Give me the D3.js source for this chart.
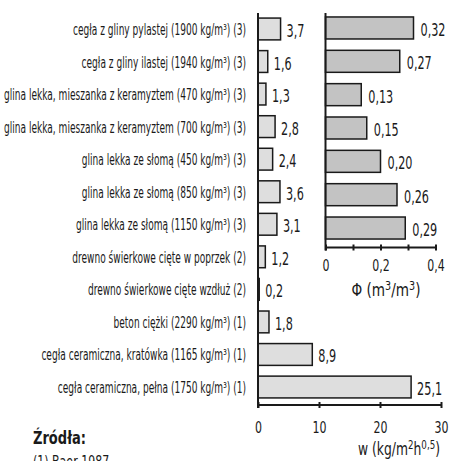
<!DOCTYPE html>
<html>
<head>
<meta charset="utf-8">
<script src="https://cdn.jsdelivr.net/npm/d3@7"></script>
<style>
  html, body { margin: 0; padding: 0; background: #fff; }
  svg { display: block; }
  text { font-family: "Liberation Sans Narrow", "DejaVu Sans Condensed", "Arial Narrow", sans-serif; fill: #1a1a1a; }
</style>
</head>
<body>
<svg id="chart" width="449" height="461"></svg>
<script>
// Materials (source reference in parentheses)
const categories = [
  "cegła z gliny pylastej (1900 kg/m³) (3)",
  "cegła z gliny ilastej (1940 kg/m³) (3)",
  "glina lekka, mieszanka z keramyztem (470 kg/m³) (3)",
  "glina lekka, mieszanka z keramyztem (700 kg/m³) (3)",
  "glina lekka ze słomą (450 kg/m³) (3)",
  "glina lekka ze słomą (850 kg/m³) (3)",
  "glina lekka ze słomą (1150 kg/m³) (3)",
  "drewno świerkowe cięte w poprzek (2)",
  "drewno świerkowe cięte wzdłuż (2)",
  "beton ciężki (2290 kg/m³) (1)",
  "cegła ceramiczna, kratówka (1165 kg/m³) (1)",
  "cegła ceramiczna, pełna (1750 kg/m³) (1)"
];
// water absorption coefficient w (kg/m²h^0.5)
const wValues = [3.7, 1.6, 1.3, 2.8, 2.4, 3.6, 3.1, 1.2, 0.2, 1.8, 8.9, 25.1];
// moisture content Φ (m³/m³), first seven materials
const phiCategories = categories.slice(0, 7);
const phiValues = [0.32, 0.27, 0.13, 0.15, 0.20, 0.26, 0.29];

const wTicks = [0, 10, 20, 30];
const phiTicks = [0, 0.1, 0.2, 0.3, 0.4];
const phiTickLabels = [0, 0.2, 0.4];

const sources = ["(1) Baer 1987"];

const pl = d3.formatLocale({ decimal: ",", thousands: " ", grouping: [3], currency: ["", " zł"] });
const fmtW = pl.format(".1f");
const fmtPhi = pl.format(".2f");
const fmtPhiTick = d => d === 0 ? "0" : pl.format(".1f")(d);

const svg = d3.select("#chart");
const ink = "#1a1a1a";

// The typeface is a narrow one; compress the available sans horizontally
// so that a reference string takes the intended width.
function squeezeFor(sample, size, weight, target) {
  const t = svg.append("text").attr("font-size", size).attr("font-weight", weight).text(sample);
  const w = t.node().getComputedTextLength();
  t.remove();
  return Math.min(1, target / w);
}
const sxValue = squeezeFor("25,1", 17, "normal", 25);
const sxTick = squeezeFor("10", 16, "normal", 14);

// ---- left panel: w ----
const xW = d3.scaleLinear().domain([0, 30]).range([258, 441]);
const yW = d3.scaleBand().domain(categories).range([12.7, 403.3]).paddingInner(0.33).paddingOuter(0.165);
const wAxisY = 405;

// ---- right panel: Φ ----
const xPhi = d3.scaleLinear().domain([0, 0.4]).range([325.5, 435.5]);
const yPhi = d3.scaleBand().domain(phiCategories).range([11.3, 244.7]).paddingInner(0.34).paddingOuter(0.17);
const phiAxisY = 247.5;

// category labels, compressed to fit the left margin
const labelRight = 246;
const labels = svg.append("g").attr("font-size", 16);
const probe = labels.append("text");
const naturalW = d3.max(categories, c => { probe.text(c); return probe.node().getComputedTextLength(); });
probe.remove();
const sxLabel = Math.min(1, 242 / naturalW);
labels.selectAll("text").data(categories).join("text")
  .attr("transform", d => `translate(${labelRight},${yW(d) + yW.bandwidth() / 2 + 6}) scale(${sxLabel},1)`)
  .attr("text-anchor", "end")
  .text(d => d);

// bars: w
svg.append("g").selectAll("rect").data(categories).join("rect")
  .attr("x", xW(0))
  .attr("y", d => yW(d))
  .attr("width", (d, i) => xW(wValues[i]) - xW(0))
  .attr("height", yW.bandwidth())
  .attr("fill", "#dedede")
  .attr("stroke", ink)
  .attr("stroke-width", 1.5);

svg.append("g").attr("font-size", 17).selectAll("text").data(categories).join("text")
  .attr("transform", (d, i) => `translate(${xW(wValues[i]) + 6},${yW(d) + yW.bandwidth() / 2 + 8}) scale(${sxValue},1)`)
  .text((d, i) => fmtW(wValues[i]));

// bars: Φ
svg.append("g").selectAll("rect").data(phiCategories).join("rect")
  .attr("x", xPhi(0))
  .attr("y", d => yPhi(d))
  .attr("width", (d, i) => xPhi(phiValues[i]) - xPhi(0))
  .attr("height", yPhi.bandwidth())
  .attr("fill", "#c3c3c3")
  .attr("stroke", ink)
  .attr("stroke-width", 1.5);

svg.append("g").attr("font-size", 17).selectAll("text").data(phiCategories).join("text")
  .attr("transform", (d, i) => `translate(${xPhi(phiValues[i]) + 7},${yPhi(d) + yPhi.bandwidth() / 2 + 8}) scale(${sxValue},1)`)
  .text((d, i) => fmtPhi(phiValues[i]));

// axes
function styleAxis(g, labelDy) {
  g.attr("font-family", null).attr("font-size", null);
  g.select(".domain").remove();
  g.selectAll(".tick line").attr("y1", -3).attr("y2", 3).attr("stroke", ink).attr("stroke-width", 2);
  g.selectAll(".tick text")
    .attr("font-size", 16).attr("fill", ink)
    .attr("y", null).attr("dy", null)
    .attr("transform", `translate(0,${labelDy}) scale(${sxTick},1)`);
}

const gW = svg.append("g").attr("transform", `translate(0,${wAxisY})`)
  .call(d3.axisBottom(xW).tickValues(wTicks).tickFormat(pl.format("d")));
styleAxis(gW, 28);

const gPhi = svg.append("g").attr("transform", `translate(0,${phiAxisY})`)
  .call(d3.axisBottom(xPhi).tickValues(phiTicks).tickFormat(d => phiTickLabels.includes(d) ? fmtPhiTick(d) : ""));
styleAxis(gPhi, 23);

// axis lines
const lines = svg.append("g").attr("stroke", ink).attr("stroke-width", 2).attr("fill", "none");
lines.append("line").attr("x1", xW(0)).attr("x2", xW(0)).attr("y1", 13).attr("y2", wAxisY + 3);
lines.append("line").attr("x1", xW(0)).attr("x2", xW(30) + 1).attr("y1", wAxisY).attr("y2", wAxisY);
lines.append("line").attr("x1", xPhi(0)).attr("x2", xPhi(0)).attr("y1", 13).attr("y2", phiAxisY + 3);
lines.append("line").attr("x1", xPhi(0)).attr("x2", xPhi(0.4) + 1).attr("y1", phiAxisY).attr("y2", phiAxisY);

// axis titles, with raised exponents, fitted to the given width
function titled(x, y, anchor, width, parts) {
  const t = svg.append("text").attr("font-size", 17).attr("text-anchor", anchor);
  parts.forEach(([s, sup], i) => {
    if (sup) t.append("tspan").attr("font-size", 12).attr("dy", -6).text(s);
    else t.append("tspan").attr("dy", i ? 6 : 0).text(s);
  });
  const sx = Math.min(1, width / t.node().getComputedTextLength());
  t.attr("transform", `translate(${x},${y}) scale(${sx},1)`);
  return t;
}
titled(440, 455, "end", 82, [["w (kg/m"], ["2", true], ["h"], ["0,5", true], [")"]]);
titled(386, 296, "middle", 69, [["Φ (m"], ["3", true], ["/m"], ["3", true], [")"]]);

// sources
const sxHead = squeezeFor("Źródła:", 18, "bold", 53);
svg.append("text").attr("font-size", 18).attr("font-weight", "bold")
  .attr("transform", `translate(33,444) scale(${sxHead},1)`).text("Źródła:");
svg.append("g").attr("font-size", 16).selectAll("text").data(sources).join("text")
  .attr("transform", (d, i) => `translate(33,${467 + i * 18}) scale(${sxTick},1)`).text(d => d);
</script>
</body>
</html>
